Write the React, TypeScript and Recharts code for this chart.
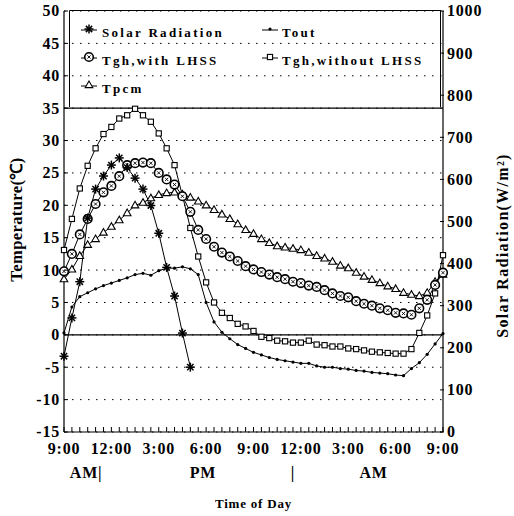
import React from 'react';
import { LineChart, Line, XAxis, YAxis, CartesianGrid, ReferenceLine } from 'recharts';

const FONT = "'Liberation Serif', 'Times New Roman', serif";

// time since 9:00 AM, in hours (half-hour readings)
const hours = [0, 0.5, 1, 1.5, 2, 2.5, 3, 3.5, 4, 4.5, 5, 5.5, 6, 6.5, 7, 7.5, 8, 8.5, 9, 9.5, 10, 10.5, 11, 11.5, 12, 12.5, 13, 13.5, 14, 14.5, 15, 15.5, 16, 16.5, 17, 17.5, 18, 18.5, 19, 19.5, 20, 20.5, 21, 21.5, 22, 22.5, 23, 23.5, 24];

// W/m2, 9:00 - 17:00
const solarRadiation = [180, 271, 357, 508, 577, 608, 634, 651, 628, 603, 577, 538, 472, 391, 323, 235, 154];

const tout = [0.3, 4.3, 5.9, 6.5, 7.1, 7.6, 8.0, 8.4, 8.8, 9.3, 9.5, 9.2, 9.9, 10.3, 10.3, 10.5, 10.2, 9.3, 5.0, 2.0, 0.4, -0.6, -1.5, -2.1, -2.7, -3.1, -3.5, -3.8, -4.0, -4.2, -4.4, -4.4, -4.8, -5.0, -5.0, -5.2, -5.3, -5.5, -5.6, -5.8, -5.9, -6.0, -6.2, -6.3, -5.2, -4.3, -3.0, -1.4, 0.2];

const tghWithLHSS = [9.8, 12.5, 15.5, 17.9, 20.2, 22.0, 23.0, 24.5, 26.2, 26.5, 26.6, 26.5, 25.0, 24.0, 23.2, 21.4, 19.0, 16.2, 14.8, 13.6, 12.7, 12.1, 11.4, 10.6, 10.1, 9.7, 9.3, 8.9, 8.6, 8.2, 8.0, 7.6, 7.4, 6.9, 6.4, 6.0, 5.8, 5.2, 4.8, 4.5, 4.1, 3.8, 3.4, 3.3, 3.1, 4.1, 5.4, 7.7, 9.6];

const tghWithoutLHSS = [13.1, 17.9, 22.6, 26.1, 28.8, 31.0, 32.1, 33.4, 33.9, 34.9, 33.9, 32.9, 31.1, 28.8, 26.2, 21.5, 16.5, 12.1, 8.1, 5.0, 3.4, 2.6, 1.7, 1.3, 0.6, -0.3, -0.5, -0.9, -1.0, -1.2, -1.2, -0.9, -1.5, -1.6, -1.8, -1.8, -2.1, -2.2, -2.4, -2.6, -2.7, -2.8, -2.9, -2.9, -2.2, 0.3, 3.0, 6.4, 12.3];

const tpcm = [8.6, 10.1, 12.2, 13.9, 14.8, 15.8, 16.7, 17.7, 18.8, 20.0, 20.4, 21.1, 21.6, 21.9, 22.0, 21.7, 21.2, 20.6, 20.0, 19.3, 18.6, 17.9, 17.1, 16.2, 15.6, 14.8, 14.2, 13.7, 13.5, 13.3, 13.1, 12.7, 12.2, 11.8, 11.3, 10.7, 10.3, 9.6, 9.0, 8.5, 8.0, 7.5, 7.1, 6.5, 6.2, 6.0, 6.5, 8.2, 9.3];

const majorTicks = [0, 3, 6, 9, 12, 15, 18, 21, 24];
const majorLabels = ['9:00', '12:00', '3:00', '6:00', '9:00', '12:00', '3:00', '6:00', '9:00'];
const periodLabels = ['AM|', 'PM', '|', 'AM'];
const periodHours = [1.4, 8.8, 14.5, 19.6];
const tempTicks = [-15, -10, -5, 0, 5, 10, 15, 20, 25, 30, 35, 40, 45, 50];
const radTicks = [0, 100, 200, 300, 400, 500, 600, 700, 800, 900, 1000];

const data = hours.map((t, i) => ({
  t,
  solar: i < solarRadiation.length ? solarRadiation[i] : null,
  tout: tout[i],
  withL: tghWithLHSS[i],
  withoutL: tghWithoutLHSS[i],
  tpcm: tpcm[i],
}));

const Star = ({ cx, cy, r = 4.5 }: any) => (
  <g stroke="#000" strokeWidth={1.5}>
    <line x1={cx - r} y1={cy} x2={cx + r} y2={cy} />
    <line x1={cx} y1={cy - r} x2={cx} y2={cy + r} />
    <line x1={cx - r * 0.7} y1={cy - r * 0.7} x2={cx + r * 0.7} y2={cy + r * 0.7} />
    <line x1={cx - r * 0.7} y1={cy + r * 0.7} x2={cx + r * 0.7} y2={cy - r * 0.7} />
  </g>
);
const SmallDot = ({ cx, cy }: any) => <circle cx={cx} cy={cy} r={1.6} fill="#000" />;
const RingDot = ({ cx, cy }: any) => (
  <g>
    <circle cx={cx} cy={cy} r={4.3} fill="#fff" stroke="#000" strokeWidth={1.6} />
    <line x1={cx - 1.6} y1={cy - 1.6} x2={cx + 1.6} y2={cy + 1.6} stroke="#000" strokeWidth={0.9} />
    <line x1={cx - 1.6} y1={cy + 1.6} x2={cx + 1.6} y2={cy - 1.6} stroke="#000" strokeWidth={0.9} />
  </g>
);
const SquareDot = ({ cx, cy }: any) => (
  <rect x={cx - 2.6} y={cy - 2.6} width={5.2} height={5.2} fill="#fff" stroke="#000" strokeWidth={1.1} />
);
const TriDot = ({ cx, cy }: any) => (
  <polygon points={`${cx},${cy - 4} ${cx - 3.8},${cy + 2.6} ${cx + 3.8},${cy + 2.6}`} fill="#fff" stroke="#000" strokeWidth={1.1} />
);

const mk = (C: any) => (p: any) => {
  if (p.cx == null || p.cy == null || p.value == null) return <g key={`e${p.index}`} />;
  return <C key={`d${p.index}`} cx={p.cx} cy={p.cy} />;
};

const XTick = (p: any) => {
  const { x, y, payload } = p;
  const idx = majorTicks.indexOf(payload.value);
  return (
    <g>
      <line x1={x} x2={x} y1={y} y2={y - 5} stroke="#000" strokeWidth={1} />
      {idx >= 0 && (
        <text x={x} y={y + 22} textAnchor="middle" fontFamily={FONT} fontSize={16} fontWeight="bold" letterSpacing={0.8} fill="#000">
          {majorLabels[idx]}
        </text>
      )}
    </g>
  );
};

const LeftTick = (p: any) => {
  const { x, y, payload } = p;
  return (
    <g>
      <line x1={x + 3} x2={x + 7} y1={y} y2={y} stroke="#000" />
      <text x={x - 1} y={y} dy="0.34em" textAnchor="end" fontFamily={FONT} fontSize={16} fontWeight="bold" letterSpacing={0.8} fill="#000">
        {payload.value}
      </text>
    </g>
  );
};
const RightTick = (p: any) => {
  const { x, y, payload } = p;
  return (
    <g>
      <line x1={x - 3} x2={x - 7} y1={y} y2={y} stroke="#000" />
      <text x={x} y={y} dy="0.34em" textAnchor="start" fontFamily={FONT} fontSize={16} fontWeight="bold" letterSpacing={0.8} fill="#000">
        {payload.value}
      </text>
    </g>
  );
};

const XLabel = (p: any) => {
  const vb = p.viewBox || { x: 64, y: 432, width: 379, height: 84 };
  return (
    <g fontFamily={FONT} fontWeight="bold" fill="#000">
      {periodLabels.map((l, i) => (
        <text key={i} x={vb.x + (vb.width * periodHours[i]) / 24} y={vb.y + 46} textAnchor="middle" fontSize={16} letterSpacing={0.8}>
          {l}
        </text>
      ))}
      <text x={vb.x + vb.width / 2} y={vb.y + 76} textAnchor="middle" fontSize={13} letterSpacing={0.8}>
        Time of Day
      </text>
    </g>
  );
};

const LeftLabel = (p: any) => {
  const vb = p.viewBox || { x: 0, y: 11, width: 64, height: 421 };
  const cx = vb.x + 16;
  const cy = vb.y + vb.height / 2 - 2;
  return (
    <text x={cx} y={cy} transform={`rotate(-90 ${cx} ${cy})`} textAnchor="middle" dy="0.35em" fontFamily={FONT} fontWeight="bold" fontSize={16.5} letterSpacing={0.4} fill="#000">
      Temperature(℃)
    </text>
  );
};
const RightLabel = (p: any) => {
  const vb = p.viewBox || { x: 443, y: 11, width: 71, height: 421 };
  const cx = vb.x + 59;
  const cy = vb.y + vb.height / 2 + 24;
  return (
    <text x={cx} y={cy} transform={`rotate(-90 ${cx} ${cy})`} textAnchor="middle" dy="0.35em" fontFamily={FONT} fontWeight="bold" fontSize={16} letterSpacing={1.3} fill="#000">
      Solar Radiation(W/m²)
    </text>
  );
};

const legendItems = [
  { name: 'Solar Radiation', C: Star },
  { name: 'Tout', C: SmallDot },
  { name: 'Tgh,with LHSS', C: RingDot },
  { name: 'Tgh,without LHSS', C: SquareDot },
  { name: 'Tpcm', C: TriDot },
];

const LegendBox = () => (
  <svg width={372} height={98} style={{ position: 'absolute', left: 69, top: 10, overflow: 'visible' }}>
    <path d="M0.5,97 L0.5,0.5 L371.5,0.5 L371.5,97" fill="none" stroke="#000" strokeWidth={1} />
    {legendItems.map((it, i) => {
      const col = i % 2;
      const row = Math.floor(i / 2);
      const mx = col === 0 ? 20 : 201;
      const my = 19 + row * 28;
      const tx = col === 0 ? 33 : 213;
      const C = it.C;
      return (
        <g key={it.name}>
          <line x1={mx - 8} x2={mx + 8} y1={my + 1} y2={my + 1} stroke="#000" strokeWidth={1} />
          <C cx={mx} cy={my} />
          <text x={tx} y={my + 8} fontFamily={FONT} fontWeight="bold" fontSize={13} letterSpacing={2.3} fill="#000">
            {it.name}
          </text>
        </g>
      );
    })}
  </svg>
);

export default function App() {
  return (
    <div style={{ position: 'absolute', left: 0, top: 0, width: 514, height: 516, background: '#fff' }}>
      <LineChart width={514} height={516} data={data} margin={{ top: 11, right: 0, bottom: 0, left: 0 }}>
        <CartesianGrid yAxisId="left" vertical={false} stroke="#000" strokeWidth={1} strokeDasharray="1.5 6.5" />
        <XAxis
          dataKey="t"
          type="number"
          domain={[0, 24]}
          ticks={hours}
          interval={0}
          height={84}
          tickSize={0}
          tickMargin={0}
          tickLine={false}
          axisLine={{ stroke: '#000', strokeWidth: 1.2 }}
          tick={(p: any) => <XTick {...p} />}
          label={{ content: (p: any) => <XLabel {...p} /> }}
        />
        <YAxis
          yAxisId="left"
          domain={[-15, 50]}
          ticks={tempTicks}
          interval={0}
          width={64}
          tickSize={0}
          tickMargin={3}
          tickLine={false}
          axisLine={{ stroke: '#000', strokeWidth: 1.2 }}
          tick={(p: any) => <LeftTick {...p} />}
          label={{ content: (p: any) => <LeftLabel {...p} /> }}
        />
        <YAxis
          yAxisId="right"
          orientation="right"
          domain={[0, 1000]}
          ticks={radTicks}
          interval={0}
          width={71}
          tickSize={0}
          tickMargin={4}
          tickLine={false}
          axisLine={{ stroke: '#000', strokeWidth: 1.2 }}
          tick={(p: any) => <RightTick {...p} />}
          label={{ content: (p: any) => <RightLabel {...p} /> }}
        />
        <ReferenceLine yAxisId="left" y={0} stroke="#000" strokeWidth={1.2} />
        <ReferenceLine yAxisId="left" y={35} stroke="#000" strokeWidth={1.2} />
        <Line yAxisId="left" dataKey="tout" stroke="#000" strokeWidth={1} dot={mk(SmallDot)} isAnimationActive={false} />
        <Line yAxisId="left" dataKey="withoutL" stroke="#000" strokeWidth={1} dot={mk(SquareDot)} isAnimationActive={false} />
        <Line yAxisId="left" dataKey="tpcm" stroke="#000" strokeWidth={1} dot={mk(TriDot)} isAnimationActive={false} />
        <Line yAxisId="left" dataKey="withL" stroke="#000" strokeWidth={1} dot={mk(RingDot)} isAnimationActive={false} />
        <Line yAxisId="right" dataKey="solar" stroke="#000" strokeWidth={1} dot={mk(Star)} isAnimationActive={false} connectNulls={false} />
      </LineChart>
      <LegendBox />
    </div>
  );
}
